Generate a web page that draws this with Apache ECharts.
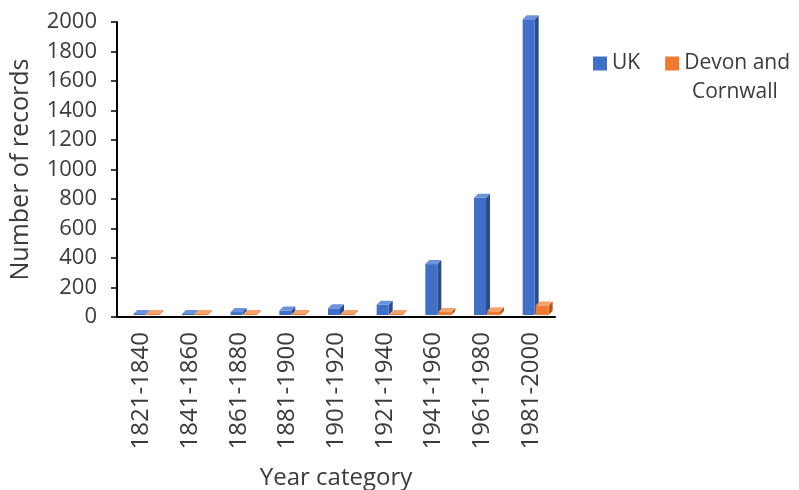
<!DOCTYPE html>
<html>
<head>
<meta charset="utf-8">
<script src="https://cdn.jsdelivr.net/npm/echarts@6/dist/echarts.min.js"></script>
<style>
  html, body { margin: 0; padding: 0; background: #fff; }
  #chart { width: 799px; height: 490px; }
</style>
</head>
<body>
<div id="chart"></div>
<script>
const categories = ['1821-1840', '1841-1860', '1861-1880', '1881-1900', '1901-1920',
  '1921-1940', '1941-1960', '1961-1980', '1981-2000']
const ukRecords = [3, 3, 20, 30, 45, 70, 345, 795, 2005]
const devonRecords = [3, 3, 3, 3, 4, 5, 20, 25, 65]
const yTicks = [0, 200, 400, 600, 800, 1000, 1200, 1400, 1600, 1800, 2000]

const font = '"Open Sans", "Noto Sans", sans-serif'
const textColor = '#3b3b3b'

// faces for the fake 3D bars: front, side, top
const palette = [
  { front: '#3f6fc6', side: '#2b4d8d', top: '#6a93dc', x0: -8, x1: 4 },
  { front: '#ee7b30', side: '#b9561a', top: '#f5a36c', x0: 5, x1: 18 }
]
const depth = 4
const lift = 2

const renderBar = (params, api) => {
  const p = palette[params.seriesIndex]
  const base = api.coord([api.value(0), 0])
  const top = api.coord([api.value(0), api.value(1)])
  const c = base[0]
  const x0 = c + p.x0
  const x1 = c + p.x1
  const yb = base[1] - lift
  const yt = Math.min(top[1] - lift, yb - 1)
  return {
    type: 'group',
    children: [
      {
        type: 'polygon',
        shape: { points: [[x1, yt], [x1 + depth, yt - depth], [x1 + depth, yb - depth], [x1, yb]] },
        style: { fill: p.side }
      },
      {
        type: 'rect',
        shape: { x: x0, y: yt, width: x1 - x0, height: yb - yt },
        style: { fill: p.front }
      },
      {
        type: 'polygon',
        shape: { points: [[x0, yt], [x0 + depth, yt - depth], [x1 + depth, yt - depth], [x1, yt]] },
        style: { fill: p.top }
      }
    ]
  }
}

const chart = echarts.init(document.getElementById('chart'))

chart.setOption({
  animation: false,
  textStyle: { fontFamily: font },
  grid: { left: 117, right: 244, top: 22, bottom: 173, outerBoundsMode: 'none', containLabel: false },
  legend: {
    left: 593,
    top: 53,
    width: 206,
    padding: 0,
    itemWidth: 14,
    itemHeight: 14,
    itemGap: 25,
    icon: 'rect',
    textStyle: { fontSize: 21, color: textColor, fontFamily: font },
    data: ['UK', 'Devon and Cornwall'],
    formatter: name => name === 'Devon and Cornwall' ? 'Devon and' : name
  },
  // second line of the wrapped legend label
  graphic: [
    {
      type: 'text',
      left: 692,
      top: 82,
      style: { text: 'Cornwall', fontSize: 21, fill: textColor, fontFamily: font }
    }
  ],
  xAxis: {
    type: 'category',
    data: categories,
    name: 'Year category',
    nameLocation: 'middle',
    nameGap: 149,
    nameTextStyle: { fontSize: 24, color: textColor, fontFamily: font },
    axisLine: { lineStyle: { color: '#000', width: 2 } },
    axisTick: { show: false },
    axisLabel: { rotate: 90, fontSize: 24, color: textColor, margin: 15, interval: 0 }
  },
  yAxis: {
    type: 'value',
    min: yTicks[0],
    max: yTicks[yTicks.length - 1],
    interval: 200,
    name: 'Number of records',
    nameLocation: 'middle',
    nameGap: 84,
    nameTextStyle: { fontSize: 25, color: textColor, fontFamily: font },
    axisLine: { show: true, lineStyle: { color: '#000', width: 2 } },
    axisTick: { show: true, length: 6, lineStyle: { color: '#000', width: 1.5 } },
    axisLabel: { fontSize: 22, color: textColor, margin: 20, formatter: v => String(v) },
    splitLine: { show: false }
  },
  series: [
    {
      name: 'UK',
      type: 'custom',
      renderItem: renderBar,
      itemStyle: { color: palette[0].front },
      encode: { x: 0, y: 1 },
      data: ukRecords.map((v, i) => [i, v]),
      z: 2
    },
    {
      name: 'Devon and Cornwall',
      type: 'custom',
      renderItem: renderBar,
      itemStyle: { color: palette[1].front },
      encode: { x: 0, y: 1 },
      data: devonRecords.map((v, i) => [i, v]),
      z: 3
    }
  ]
})
</script>
</body>
</html>
